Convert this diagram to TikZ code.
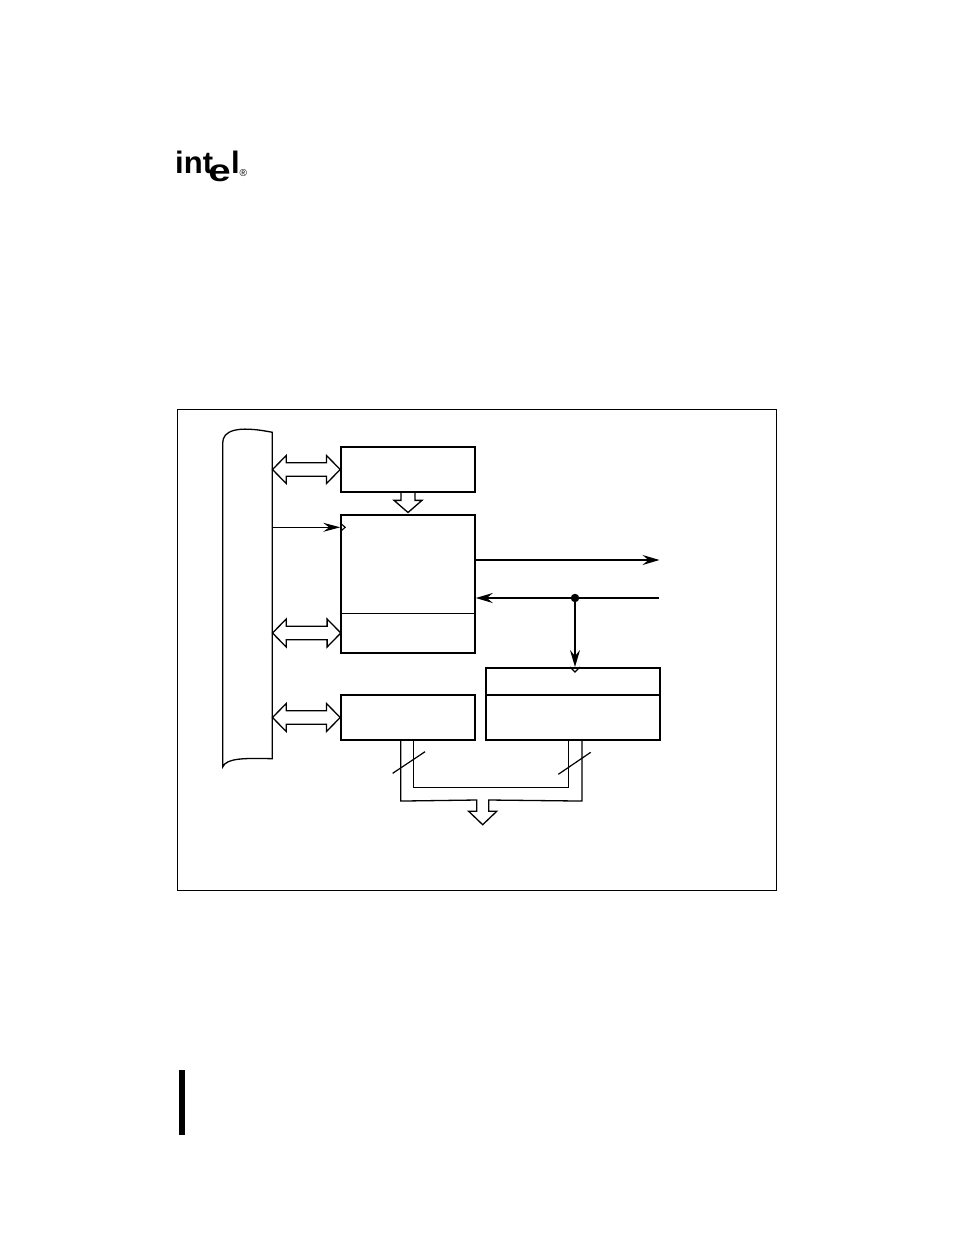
\documentclass[tikz,border=0pt]{standalone}
\usepackage{fontspec}
\setmainfont{Liberation Sans}
\usetikzlibrary{arrows.meta,calc}
\def\dblarrow(#1)(#2){\draw[busline] (#1) -- ++(13.7,-14) -- ++(0,7.3) -- ($(#2)+(-13.7,-6.7)$) -- ++(0,-7.3) -- (#2) -- ++(-13.7,14) -- ++(0,-7.3) -- ($(#1)+(13.7,6.7)$) -- ++(0,7.3) -- cycle;}
\tikzset{
	regbox/.style={draw, line width=1.6, inner sep=0, minimum width=134, minimum height=45.5},
	busline/.style={line width=1.3, line join=miter},
	sigline/.style={line width=1.6, -{Stealth[length=17, width=10, inset=6]}},
	clkmark/.style={line width=1.1},
	logotext/.style={anchor=base west, inner sep=0, font=\bfseries\fontsize{#1}{#1}\selectfont}
}

\begin{document}
\begin{tikzpicture}[x=1pt, y=-1pt]
	\useasboundingbox (0, 0) rectangle (954, 1235);
	%%%%% LOGO %%%%%
	\node[logotext=31] (logoint) at (175, 173.5) {int};
	\node[logotext=31, xscale=1.3] (logoe) at (208, 181) {e};
	\node[logotext=31] (logol) at (231, 173.5) {l};
	\node[anchor=base west, inner sep=0, font=\fontsize{10}{10}\selectfont] (logoreg) at (239.5, 176) {®};
	
	%%%%% FRAME %%%%%
	\draw[line width=1] (177.5, 409) rectangle (776.5, 890);
	
	%%%%% BUS %%%%%
	\draw[line width=1.3] (222.7, 443) .. controls (222.7, 431) and (236, 425) .. (272.3, 432.3) -- (272.3, 758.7) .. controls (245, 758) and (226, 758) .. (222.7, 767) -- cycle;
	\coordinate (bustop) at (272.5, 469.5);
	\coordinate (busclk) at (272.5, 527.3);
	\coordinate (busmid) at (272.5, 633);
	\coordinate (buslow) at (272.5, 717.5);
	
	%%%%% REGISTERS %%%%%
	\node[regbox] (buffer) at (408, 469.5) {};
	\node[regbox, minimum height=138] (control) at (408, 583.8) {};
	\node[inner sep=0, minimum width=134, minimum height=39] (count) at (408, 633) {};
	\draw[line width=0.9] (count.north west) -- (count.north east);
	\node[regbox] (output) at (408, 717.5) {};
	\node[regbox, minimum width=174, minimum height=27] (latch) at (573, 681.3) {};
	\node[regbox, minimum width=174] (compare) at (573, 717.5) {};
	
	%%%%% CONNECTORS %%%%%
	\dblarrow(bustop)(buffer.west)
	\dblarrow(busmid)(count.west)
	\dblarrow(buslow)(output.west)
	
	\draw[busline] (buffer.south) ++(-7, 0) -- ++(0, 7.3) -- ++(-7, 0) -- ($(control.north)+(0,-1.5)$) -- ($(buffer.south)+(14, 7.3)$) -- ++(-7, 0) -- ++(0, -7.3);
	
	\draw[line width=1, -{Stealth[length=17, width=9, inset=6]}] (busclk) -- (busclk -| control.west);
	\draw[clkmark] ($(busclk -| control.west)+(0,-4.3)$) -- ++(5, 4.3) -- ++(-5, 4.3);
	
	\coordinate (outsig) at (659.5, 560);
	\coordinate (insig) at (658.5, 598);
	\draw[sigline] (outsig -| control.east) -- (outsig);
	\draw[sigline] (insig) -- (insig -| control.east);
	\node[circle, fill=black, inner sep=0, minimum size=8.5] (tap) at (575, 598) {};
	\draw[sigline] (tap) -- (tap |- latch.north);
	\draw[clkmark] ($(tap |- latch.north)+(-5,0)$) -- ++(5, 5) -- ++(5, -5);
	
	\draw[busline] ($(output.south)+(-7.3, 0)$) -- ++(0, 60) -- (476.7, 800) -- ++(0, 11.3) -- ++(-8, 0) -- (482.7, 824.7) -- (496.7, 811.3) -- ++(-8, 0) -- ++(0, -11.3) -- ($(compare.south)+(9, 60)$) -- ++(0, -60);
	\draw[busline] ($(output.south)+(5.7, 0)$) -- ++(0, 46.7) -- ($(compare.south)+(-4.3, 46.7)$) -- ++(0, -46.7);
	\draw[line width=1.2] (392.7, 773.3) -- (425, 751.7);
	\draw[line width=1.2] (558.3, 774.3) -- (590.7, 752.3);
	
	%%%%% MARGIN BAR %%%%%
	\fill[black] (179, 1070) rectangle (185, 1135);
\end{tikzpicture}
\end{document}
